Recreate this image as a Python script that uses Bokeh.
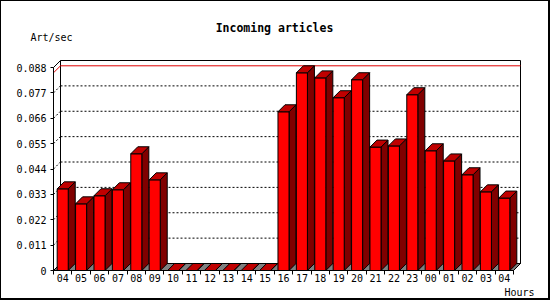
from bokeh.plotting import figure
from bokeh.models import Range1d, FixedTicker, Label
from bokeh.embed import file_html
from bokeh.resources import INLINE

# ---- data ----
hours = ["04", "05", "06", "07", "08", "09", "10", "11", "12", "13", "14", "15",
         "16", "17", "18", "19", "20", "21", "22", "23", "00", "01", "02", "03", "04"]
rates = [0.0354, 0.0289, 0.0324, 0.0350, 0.0506, 0.0393, 0.0, 0.0, 0.0, 0.0, 0.0, 0.0,
         0.0688, 0.0857, 0.0835, 0.0749, 0.0827, 0.0535, 0.0540, 0.0762,
         0.0519, 0.0475, 0.0415, 0.0341, 0.0314]
y_ticks = [0.0, 0.011, 0.022, 0.033, 0.044, 0.055, 0.066, 0.077, 0.088]
y_tick_labels = ["0", "0.011", "0.022", "0.033", "0.044", "0.055", "0.066", "0.077", "0.088"]
title_text = "Incoming articles"
y_title = "Art/sec"
x_title = "Hours"

# ---- styling / geometry ----
FONT = "DejaVu Sans Mono"
PX_PER_CAT = 18.4
PX_PER_UNIT = 2306.8
DEPTH = 7.0
DX = DEPTH / PX_PER_CAT
DY = DEPTH / PX_PER_UNIT
BAR_OFF = 0.2
BAR_W = 0.6
FRONT = "#ff0000"
SIDE = "#800000"
TOP = "#c00000"
FLOOR = "#808080"

W, H = 550, 300
ORIGIN_X, ORIGIN_Y = 52, 269   # canvas pixel of the data origin (from top-left)
xs = -ORIGIN_X / PX_PER_CAT
ys = -(H - ORIGIN_Y) / PX_PER_UNIT

p = figure(width=W, height=H, output_backend="svg", toolbar_location=None,
           x_range=Range1d(xs, xs + W / PX_PER_CAT),
           y_range=Range1d(ys, ys + H / PX_PER_UNIT),
           min_border_left=0, min_border_right=0,
           min_border_top=0, min_border_bottom=0)
p.styles = {"border-style": "solid", "border-color": "black",
            "border-width": "1px 2px 2px 1px"}
p.outline_line_color = None
p.grid.visible = False
p.background_fill_color = "white"
p.border_fill_color = "white"

n = len(rates)
ymax = y_ticks[-1]
vmax = max(rates)

# back plane
p.patch([DX, n + DX, n + DX, DX], [DY, DY, ymax + DY, ymax + DY],
        fill_color="white", line_color="black", line_width=1)
# dotted gridlines on back plane + diagonals
inner = y_ticks[1:-1]
p.segment(x0=[DX] * len(inner), y0=[t + DY for t in inner],
          x1=[n + DX] * len(inner), y1=[t + DY for t in inner],
          line_color="black", line_dash="2 2", line_width=1)
p.segment(x0=[0] * len(inner), y0=inner, x1=[DX] * len(inner), y1=[t + DY for t in inner],
          line_color="black", line_dash="2 2", line_width=1)
# top-left diagonal
p.segment(x0=[0], y0=[ymax], x1=[DX], y1=[ymax + DY], line_color="black")
# max line
p.segment(x0=[DX, 0], y0=[vmax + DY, vmax], x1=[n + DX, DX], y1=[vmax + DY, vmax + DY],
          line_color="#e00000", line_width=1)
# floor
p.patch([0, n, n + DX, DX], [0, 0, DY, DY], fill_color=FLOOR, line_color="black")

# bars
lefts = [i + BAR_OFF for i in range(n)]
rights = [l + BAR_W for l in lefts]
side_xs = [[r, r + DX, r + DX, r] for r in rights]
side_ys = [[0, DY, v + DY, v] for v in rates]
top_xs = [[l, r, r + DX, l + DX] for l, r in zip(lefts, rights)]
top_ys = [[v, v, v + DY, v + DY] for v in rates]
p.patches(side_xs, side_ys, fill_color=SIDE, line_color="black", line_width=1)
p.quad(left=lefts, right=rights, bottom=[0] * n, top=rates,
       fill_color=FRONT, line_color="black", line_width=1)
p.patches(top_xs, top_ys, fill_color=TOP, line_color="black", line_width=1)

# front axes lines
p.segment(x0=[0, 0, n], y0=[0, 0, 0], x1=[0, n, n + DX], y1=[ymax, 0, DY],
          line_color="black", line_width=1)

# axes (fixed at the data origin)
xa = p.xaxis[0]
xa.fixed_location = 0
xa.ticker = FixedTicker(ticks=[i + 0.5 for i in range(n)],
                        minor_ticks=[float(i) for i in range(n + 1)])
xa.major_label_overrides = {i + 0.5: h for i, h in enumerate(hours)}
xa.axis_line_color = None
xa.major_tick_out = 0
xa.major_tick_in = 0
xa.minor_tick_out = 4
xa.minor_tick_in = 0
xa.minor_tick_line_color = "black"
xa.major_label_standoff = -1
xa.major_label_text_font = FONT
xa.major_label_text_font_size = "10px"
xa.major_label_text_color = "black"

ya = p.yaxis[0]
ya.fixed_location = 0
ya.ticker = FixedTicker(ticks=y_ticks, minor_ticks=[])
ya.major_label_overrides = {t: s for t, s in zip(y_ticks, y_tick_labels)}
ya.axis_line_color = None
ya.major_tick_out = 3
ya.major_tick_in = 0
ya.major_tick_line_color = "black"
ya.minor_tick_line_color = None
ya.major_label_standoff = 4
ya.major_label_text_font = FONT
ya.major_label_text_font_size = "10px"
ya.major_label_text_color = "black"

# texts (screen units: from canvas left / canvas bottom)
p.add_layout(Label(x=273, y=H - 26, x_units="screen", y_units="screen", text=title_text,
                   text_font=FONT, text_font_size="11.5px", text_font_style="bold",
                   text_align="center", text_baseline="middle", text_color="black"))
p.add_layout(Label(x=29, y=H - 36, x_units="screen", y_units="screen", text=y_title,
                   text_font=FONT, text_font_size="10px",
                   text_align="left", text_baseline="middle", text_color="black"))
p.add_layout(Label(x=503, y=H - 291, x_units="screen", y_units="screen", text=x_title,
                   text_font=FONT, text_font_size="10px",
                   text_align="left", text_baseline="middle", text_color="black"))

open("out.html", "w").write(file_html(p, INLINE))
